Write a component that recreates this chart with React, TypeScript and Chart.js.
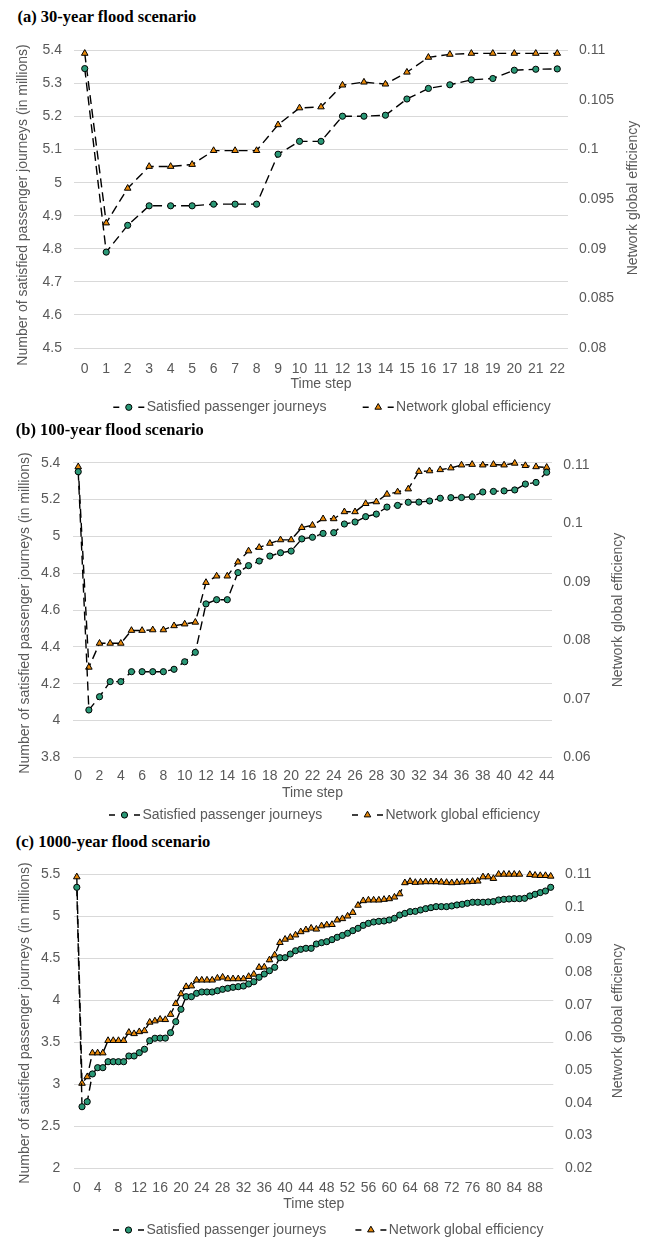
import React, { useEffect, useRef } from 'react';
import { Chart, registerables } from 'chart.js';

Chart.register(...registerables);

// ---------------- DATA ----------------
// (a) 30-year flood scenario
const journeysA = [5.345, 4.79, 4.871, 4.93, 4.93, 4.93, 4.935, 4.935, 4.935, 5.086, 5.125, 5.125, 5.201, 5.201, 5.204, 5.253, 5.285, 5.296, 5.311, 5.315, 5.34, 5.343, 5.344];
const efficiencyA = [0.1097, 0.0926, 0.0961, 0.0983, 0.0983, 0.0985, 0.0999, 0.0999, 0.0999, 0.1025, 0.1042, 0.1043, 0.1065, 0.1068, 0.1066, 0.1078, 0.1093, 0.1096, 0.1097, 0.1097, 0.1097, 0.1097, 0.1097];
const leftTicksA = [4.5, 4.6, 4.7, 4.8, 4.9, 5, 5.1, 5.2, 5.3, 5.4];
const rightTicksA = [0.08, 0.085, 0.09, 0.095, 0.1, 0.105, 0.11];

// (b) 100-year flood scenario
const journeysB = [5.351, 4.057, 4.129, 4.211, 4.211, 4.265, 4.265, 4.265, 4.265, 4.278, 4.319, 4.37, 4.633, 4.656, 4.656, 4.803, 4.841, 4.866, 4.893, 4.911, 4.92, 4.986, 4.995, 5.016, 5.02, 5.067, 5.078, 5.107, 5.121, 5.159, 5.168, 5.185, 5.186, 5.192, 5.207, 5.21, 5.211, 5.215, 5.241, 5.244, 5.247, 5.252, 5.284, 5.293, 5.348];
const efficiencyB = [0.1097, 0.0754, 0.0795, 0.0795, 0.0795, 0.0817, 0.0817, 0.0818, 0.0818, 0.0825, 0.0828, 0.0831, 0.0899, 0.091, 0.091, 0.0934, 0.0953, 0.0959, 0.0966, 0.0972, 0.0972, 0.0993, 0.0997, 0.1008, 0.1008, 0.102, 0.102, 0.1034, 0.1037, 0.105, 0.1054, 0.1059, 0.1089, 0.109, 0.1092, 0.1095, 0.11, 0.1101, 0.11, 0.1101, 0.11, 0.1103, 0.1099, 0.1097, 0.1096];
const leftTicksB = [3.8, 4, 4.2, 4.4, 4.6, 4.8, 5, 5.2, 5.4];
const rightTicksB = [0.06, 0.07, 0.08, 0.09, 0.1, 0.11];

// (c) 1000-year flood scenario
const journeysC = [5.345, 2.733, 2.793, 3.123, 3.198, 3.198, 3.269, 3.269, 3.269, 3.269, 3.337, 3.337, 3.376, 3.417, 3.519, 3.548, 3.55, 3.55, 3.614, 3.745, 3.893, 4.043, 4.043, 4.083, 4.099, 4.099, 4.099, 4.114, 4.131, 4.143, 4.155, 4.162, 4.17, 4.194, 4.221, 4.274, 4.313, 4.352, 4.393, 4.507, 4.507, 4.551, 4.59, 4.607, 4.619, 4.619, 4.67, 4.686, 4.698, 4.722, 4.75, 4.772, 4.798, 4.829, 4.857, 4.892, 4.916, 4.932, 4.94, 4.944, 4.956, 4.976, 5.015, 5.035, 5.055, 5.059, 5.075, 5.091, 5.103, 5.115, 5.115, 5.115, 5.123, 5.135, 5.143, 5.155, 5.167, 5.167, 5.167, 5.171, 5.175, 5.194, 5.202, 5.206, 5.21, 5.21, 5.214, 5.242, 5.262, 5.282, 5.301, 5.345];
const efficiencyC = [0.1092, 0.046, 0.048, 0.0553, 0.0553, 0.0553, 0.0591, 0.0591, 0.0591, 0.0591, 0.0616, 0.0612, 0.0618, 0.0621, 0.0647, 0.0651, 0.0656, 0.0655, 0.0671, 0.0704, 0.0734, 0.0756, 0.0758, 0.0776, 0.0776, 0.0776, 0.0776, 0.0782, 0.0785, 0.078, 0.078, 0.078, 0.078, 0.0787, 0.0794, 0.0815, 0.0816, 0.0838, 0.0853, 0.0891, 0.0901, 0.0907, 0.0914, 0.0924, 0.093, 0.0935, 0.0932, 0.0942, 0.0945, 0.0946, 0.096, 0.0964, 0.0972, 0.0983, 0.1005, 0.1019, 0.1021, 0.1021, 0.1021, 0.1023, 0.1025, 0.103, 0.104, 0.1074, 0.1078, 0.1075, 0.1076, 0.1077, 0.1077, 0.1077, 0.1076, 0.1075, 0.1074, 0.1075, 0.1076, 0.1077, 0.1078, 0.1079, 0.1092, 0.1092, 0.1087, 0.11, 0.11, 0.11, 0.11, 0.11, null, 0.1099, 0.1097, 0.1096, 0.1096, 0.1094];
const leftTicksC = [2, 2.5, 3, 3.5, 4, 4.5, 5, 5.5];
const rightTicksC = [0.02, 0.03, 0.04, 0.05, 0.06, 0.07, 0.08, 0.09, 0.1, 0.11];

const stepsA = journeysA.map((_, i) => String(i));
const stepsB = journeysB.map((_, i) => String(i));
const stepsC = journeysC.map((_, i) => String(i));

const seriesNames = ['Satisfied passenger journeys', 'Network global efficiency'];
const panelTitles = ['(a) 30-year flood scenario', '(b) 100-year flood scenario', '(c) 1000-year flood scenario'];
const leftAxisTitle = 'Number of satisfied passenger journeys (in millions)';
const rightAxisTitle = 'Network global efficiency';
const xAxisTitle = 'Time step';

// ---------------- STYLE ----------------
const FONT = "'Liberation Sans', Arial, Helvetica, sans-serif";
const TEXT = '#595959';
const GRID = '#D9D9D9';
const GREEN = '#2A9876';
const ORANGE = '#E8890A';
const DASH = [9, 5];

type PanelCfg = {
  title: string; titleLeft: number; titleTop: number;
  canvasTop: number; height: number;
  labels: string[]; journeys: (number | null)[]; efficiency: (number | null)[];
  leftMin: number; leftMax: number; leftTicks: number[];
  rightMin: number; rightMax: number; rightTicks: number[];
  every: number;
  plotTop: number; xAxisH: number; leftW: number; rightW: number;
  xTickPad: number; xTitlePad: number; yPadL: number; yPadR: number;
  leftTitle: [number, number]; rightTitle: [number, number];
  legendY: number; legendX: [number, number];
};

const panels: PanelCfg[] = [
  {
    title: panelTitles[0], titleLeft: 17.5, titleTop: 9, canvasTop: 30, height: 392,
    labels: stepsA, journeys: journeysA, efficiency: efficiencyA,
    leftMin: 4.5, leftMax: 5.4, leftTicks: leftTicksA, rightMin: 0.08, rightMax: 0.11, rightTicks: rightTicksA,
    every: 1, plotTop: 20, xAxisH: 74, leftW: 74, rightW: 85, xTickPad: 4.5, xTitlePad: 29.3, yPadL: 12, yPadR: 11,
    leftTitle: [23, 175], rightTitle: [633, 168], legendY: 377.3, legendX: [113.3, 362.7],
  },
  {
    title: panelTitles[1], titleLeft: 15.8, titleTop: 422, canvasTop: 440, height: 386,
    labels: stepsB, journeys: journeysB, efficiency: efficiencyB,
    leftMin: 3.8, leftMax: 5.4, leftTicks: leftTicksB, rightMin: 0.06, rightMax: 0.1104, rightTicks: rightTicksB,
    every: 2, plotTop: 22.7, xAxisH: 68.7, leftW: 72.9, rightW: 101, xTickPad: 2.8, xTitlePad: 24.3, yPadL: 12.5, yPadR: 11.3,
    leftTitle: [25, 173], rightTitle: [618.5, 170], legendY: 375, legendX: [109, 352],
  },
  {
    title: panelTitles[2], titleLeft: 15.8, titleTop: 833.5, canvasTop: 852, height: 388,
    labels: stepsC, journeys: journeysC, efficiency: efficiencyC,
    leftMin: 2, leftMax: 5.5, leftTicks: leftTicksC, rightMin: 0.02, rightMax: 0.11, rightTicks: rightTicksC,
    every: 4, plotTop: 22.3, xAxisH: 71.7, leftW: 74.2, rightW: 99.7, xTickPad: 3.5, xTitlePad: 27.3, yPadL: 13.8, yPadR: 11.7,
    leftTitle: [25, 171], rightTitle: [618.3, 169], legendY: 378, legendX: [113, 355.4],
  },
];

const fmt = (v: number) => String(Number(Number(v).toFixed(4)));

function drawMarker(ctx: CanvasRenderingContext2D, style: string, x: number, y: number, r: number, fill: string) {
  ctx.beginPath();
  if (style === 'circle') {
    ctx.arc(x, y, r, 0, Math.PI * 2);
  } else {
    ctx.moveTo(x, y - r);
    ctx.lineTo(x + r * Math.sin(Math.PI / 3), y + r * Math.cos(Math.PI / 3));
    ctx.lineTo(x - r * Math.sin(Math.PI / 3), y + r * Math.cos(Math.PI / 3));
    ctx.closePath();
  }
  ctx.fillStyle = fill;
  ctx.fill();
  ctx.lineWidth = 1;
  ctx.strokeStyle = '#000';
  ctx.setLineDash([]);
  ctx.stroke();
}

function Panel({ cfg }: { cfg: PanelCfg }) {
  const ref = useRef<HTMLCanvasElement>(null);
  useEffect(() => {
    const decor = {
      id: 'decor',
      afterDraw(chart: any) {
        const ctx: CanvasRenderingContext2D = chart.ctx;
        ctx.save();
        ctx.font = `14px ${FONT}`;
        ctx.fillStyle = TEXT;
        ctx.textAlign = 'center';
        ctx.textBaseline = 'middle';
        const titles: [string, [number, number]][] = [[leftAxisTitle, cfg.leftTitle], [rightAxisTitle, cfg.rightTitle]];
        for (const [text, [x, y]] of titles) {
          ctx.save();
          ctx.translate(x, y);
          ctx.rotate(-Math.PI / 2);
          ctx.fillText(text, 0, 0);
          ctx.restore();
        }
        const ds = chart.data.datasets;
        cfg.legendX.forEach((x0, i) => {
          const d = ds[i];
          const y = cfg.legendY;
          ctx.save();
          ctx.strokeStyle = '#000';
          ctx.lineWidth = 1.5;
          ctx.setLineDash([]);
          ctx.beginPath();
          ctx.moveTo(x0, y); ctx.lineTo(x0 + 6, y);
          ctx.moveTo(x0 + 25, y); ctx.lineTo(x0 + 31, y);
          ctx.stroke();
          drawMarker(ctx, d.pointStyle, x0 + 15.5, y, d.pointRadius, d.pointBackgroundColor);
          ctx.restore();
          ctx.fillStyle = TEXT;
          ctx.textAlign = 'left';
          ctx.textBaseline = 'middle';
          ctx.fillText(d.label, x0 + 33.4, y);
        });
        ctx.restore();
      },
    };

    const tickFont = { family: FONT, size: 14 };
    const chart = new Chart(ref.current as HTMLCanvasElement, {
      type: 'line',
      data: {
        labels: cfg.labels,
        datasets: [
          {
            label: seriesNames[0], data: cfg.journeys, yAxisID: 'y',
            borderColor: '#000', borderWidth: 1.4, borderDash: DASH, fill: false, tension: 0,
            pointStyle: 'circle', pointRadius: 3.1, pointBackgroundColor: GREEN, pointBorderColor: '#000', pointBorderWidth: 1,
            clip: false, spanGaps: false,
          } as any,
          {
            label: seriesNames[1], data: cfg.efficiency, yAxisID: 'y1',
            borderColor: '#000', borderWidth: 1.4, borderDash: DASH, fill: false, tension: 0,
            pointStyle: 'triangle', pointRadius: 3.8, pointBackgroundColor: ORANGE, pointBorderColor: '#000', pointBorderWidth: 1,
            clip: false, spanGaps: false,
          } as any,
        ],
      },
      options: {
        responsive: false,
        animation: false,
        devicePixelRatio: 1,
        events: [],
        layout: { padding: { top: cfg.plotTop, bottom: 0, left: 0, right: 0 } },
        plugins: { legend: { display: false }, tooltip: { enabled: false }, title: { display: false } },
        scales: {
          x: {
            type: 'category', offset: true,
            grid: { display: false }, border: { display: false },
            ticks: {
              autoSkip: false, maxRotation: 0, minRotation: 0, padding: cfg.xTickPad, color: TEXT, font: tickFont,
              callback: (_v: any, i: number) => (i % cfg.every === 0 ? cfg.labels[i] : ''),
            },
            title: { display: true, text: xAxisTitle, color: TEXT, font: tickFont, padding: { top: 0, bottom: cfg.xTitlePad } },
            afterFit: (s: any) => { s.height = cfg.xAxisH; },
          },
          y: {
            type: 'linear', position: 'left', min: cfg.leftMin, max: cfg.leftMax,
            grid: { color: GRID, lineWidth: 1, drawTicks: false }, border: { display: false },
            ticks: { padding: cfg.yPadL, color: TEXT, font: tickFont, callback: (v: any) => fmt(v) },
            afterBuildTicks: (s: any) => { s.ticks = cfg.leftTicks.map((v) => ({ value: v })); },
            afterFit: (s: any) => { s.width = cfg.leftW; },
          },
          y1: {
            type: 'linear', position: 'right', min: cfg.rightMin, max: cfg.rightMax,
            grid: { display: false, drawTicks: false }, border: { display: false },
            ticks: { padding: cfg.yPadR, color: TEXT, font: tickFont, callback: (v: any) => fmt(v) },
            afterBuildTicks: (s: any) => { s.ticks = cfg.rightTicks.map((v) => ({ value: v })); },
            afterFit: (s: any) => { s.width = cfg.rightW; },
          },
        },
      } as any,
      plugins: [decor as any],
    });
    return () => chart.destroy();
  }, [cfg]);

  return (
    <>
      <div
        style={{
          position: 'absolute', left: cfg.titleLeft, top: cfg.titleTop,
          font: "bold 16.5px 'Liberation Serif', 'Times New Roman', serif", lineHeight: '16px',
          color: '#000', whiteSpace: 'nowrap',
        }}
      >
        {cfg.title}
      </div>
      <canvas
        ref={ref}
        width={653}
        height={cfg.height}
        style={{ position: 'absolute', left: 0, top: cfg.canvasTop, width: 653, height: cfg.height }}
      />
    </>
  );
}

export default function App() {
  return (
    <div style={{ position: 'absolute', left: 0, top: 0, width: 653, height: 1240, background: '#fff', overflow: 'hidden' }}>
      {panels.map((p) => (
        <Panel key={p.title} cfg={p} />
      ))}
    </div>
  );
}
